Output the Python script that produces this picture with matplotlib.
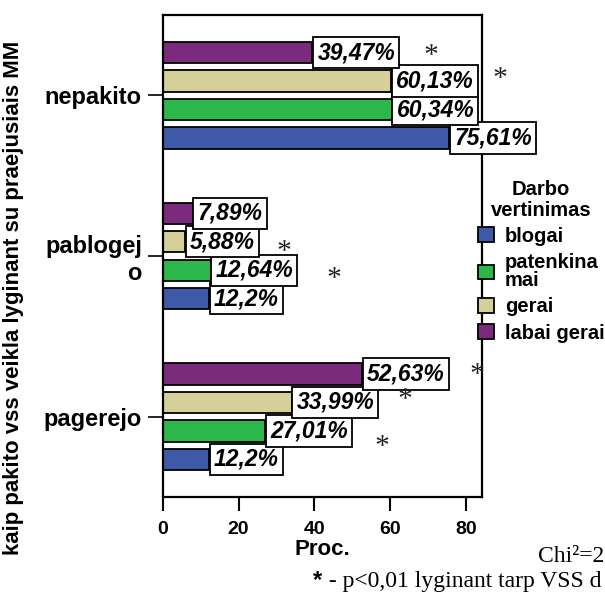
import matplotlib
matplotlib.use('Agg')
import matplotlib.pyplot as plt
from matplotlib.textpath import TextPath
from matplotlib.path import Path
from matplotlib.font_manager import FontProperties
import numpy as np

# ---- data ----
categories = ['pagerejo', 'pablogej\no', 'nepakito']
series_names = ['blogai', 'patenkina\nmai', 'gerai', 'labai gerai']
blogai = [12.2, 12.2, 75.61]
patenkinamai = [27.01, 12.64, 60.34]
gerai = [33.99, 5.88, 60.13]
labai_gerai = [52.63, 7.89, 39.47]
xticks = [0, 20, 40, 60, 80]
legend_title = 'Darbo\nvertinimas'
xlabel = 'Proc.'
ylabel = 'kaip pakito vss veikla lyginant su praejusiais MM'
chi_text = 'Chi²=2'
note_text = ' - p<0,01 lyginant tarp VSS d'

# ---- style ----
colors = ['#3f59a9', '#2cb74b', '#d5d09a', '#7c2a7c']
# significance asterisk annotation positions (data coords)
star_x = [70.8, 89.0, 32.0, 45.2, 83.0, 64.0, 57.9]
star_y = [2.288, 2.145, 1.067, 0.899, 0.305, 0.150, -0.143]

plt.rcParams['font.family'] = ['Liberation Sans', 'DejaVu Sans']

W, H = 605, 594
fig = plt.figure(figsize=(W / 100, H / 100), dpi=100)
ax_l, ax_r, ax_t, ax_b = 162.7, 482, 15, 497
ax = fig.add_axes([ax_l / W, 1 - ax_b / H, (ax_r - ax_l) / W, (ax_b - ax_t) / H])

series = [blogai, patenkinamai, gerai, labai_gerai]
y = np.arange(len(categories))
pitch = 0.177
height = 0.133
lab_fs = 16.5
lab_pad = 0.18
handles = []
for i, (vals, col) in enumerate(zip(series, colors)):
    off = (i - 1.5) * pitch
    bars = ax.barh(y + off, vals, height=height, color=col, edgecolor='black',
                   linewidth=1.3, zorder=2)
    handles.append(bars)
    for yy, v in zip(y + off, vals):
        lab = f'{v:g}'.replace('.', ',') + '%'
        ax.annotate(lab, xy=(v, yy), xytext=(lab_fs * lab_pad + 0.6, 0),
                    textcoords='offset points',
                    ha='left', va='center', fontsize=lab_fs, fontstyle='italic',
                    fontweight='bold', annotation_clip=False, zorder=4,
                    bbox=dict(boxstyle=f'square,pad={lab_pad}', fc='white',
                              ec='black', lw=1.3))

# asterisk marker built from the serif glyph, centred on its own outline
tp = TextPath((0, 0), '*', prop=FontProperties(family='Liberation Serif'))
verts = tp.vertices.copy()
codes = tp.codes.copy()
start = verts[0].copy()
for k in range(len(codes)):
    if codes[k] == Path.MOVETO:
        start = verts[k].copy()
    elif codes[k] == Path.CLOSEPOLY:
        verts[k] = start
real = codes != Path.CLOSEPOLY
cx = (verts[real, 0].min() + verts[real, 0].max()) / 2
cy = (verts[real, 1].min() + verts[real, 1].max()) / 2
verts[:, 0] -= cx
verts[:, 1] -= cy
star_path = Path(verts, codes)
ax.plot(star_x, star_y, ls='none', marker=star_path, ms=8.5, color='#222222',
        mew=0, clip_on=False, zorder=5)

ax.set_xlim(0, 84.2)
ax.set_ylim(-0.5, 2.5)
ax.set_xticks(xticks)
ax.set_xticklabels([str(t) for t in xticks], fontsize=14, fontweight='bold')
ax.set_yticks(y)
ax.set_yticklabels(categories, fontsize=17, fontweight='bold', multialignment='right')
ax.tick_params(axis='x', length=10, width=1.5, pad=7)
ax.tick_params(axis='y', length=11, width=1.2, pad=4)
for s in ax.spines.values():
    s.set_linewidth(1.6)
ax.set_xlabel(xlabel, fontsize=16, fontweight='bold', labelpad=1)

fig.text(14 / W, 1 - 298 / H, ylabel, rotation=90, ha='center', va='center',
         fontsize=16, fontweight='bold')

leg = fig.legend(handles=handles, labels=series_names, title=legend_title,
                 loc='upper left', bbox_to_anchor=(478 / W, 1 - 180 / H),
                 frameon=False, fontsize=14.5,
                 title_fontproperties={'weight': 'bold', 'size': 14.5},
                 handlelength=0.78, handleheight=0.75, handletextpad=0.55,
                 labelspacing=0.36, borderpad=0, borderaxespad=0)
leg.get_title().set_multialignment('center')
leg.get_title().set_linespacing(1.1)
for t in leg.get_texts():
    t.set_fontweight('bold')
    t.set_linespacing(0.95)

serif = ['Liberation Serif', 'DejaVu Serif']
fig.text(538 / W, 1 - 562 / H, chi_text, fontsize=17, family=serif, va='baseline', ha='left')
fig.text(313 / W, 1 - 587 / H, '*', fontsize=17, fontweight='bold', va='baseline', ha='left')
fig.text(323 / W, 1 - 587 / H, note_text, fontsize=17, family=serif, va='baseline', ha='left')

fig.savefig('out.png', dpi=100)
